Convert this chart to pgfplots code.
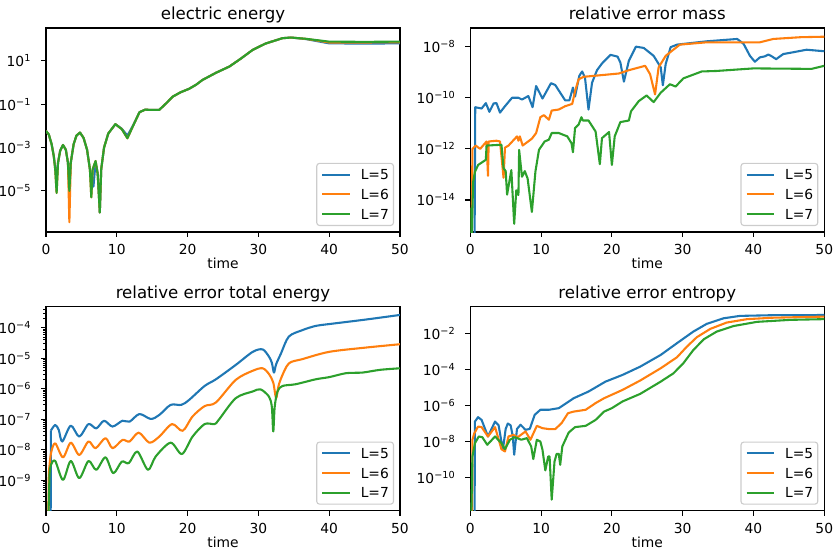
\documentclass[border=0pt]{standalone}
\usepackage{fontspec}
\setmainfont{DejaVu Sans}
\usepackage{pgfplots}
\pgfplotsset{compat=1.18}
\definecolor{c0}{HTML}{1F77B4}
\definecolor{c1}{HTML}{FF7F0E}
\definecolor{c2}{HTML}{2CA02C}
\newcommand\ee[1]{10\textsuperscript{#1}}

% shared look of the four panels
\pgfplotsset{
  scale only axis, width=254.88bp, height=146.88bp,
  xmin=0, xmax=50, xtick={0,10,20,30,40,50},
  no markers,
  tick align=outside, tick pos=left,
  major tick length=3.5bp, minor tick length=2bp,
  major tick style={black, line width=0.8bp},
  minor tick style={black, line width=0.6bp},
  axis line style={line width=0.8bp},
  xticklabel style={inner sep=0pt, anchor=base, yshift=-13bp},
  yticklabel style={inner sep=0pt, anchor=east, xshift=-7bp},
  every axis title shift=0pt,
  title style={font=\fontsize{12}{14}\selectfont, inner sep=0pt,
    at={(axis description cs:0.5,1)}, anchor=base, yshift=6.1bp},
  xlabel style={inner sep=0pt, at={(axis description cs:0.5,0)}, anchor=base, yshift=-26.6bp},
  every axis plot/.append style={line width=1.5bp, line join=round},
  legend cell align=left,
  legend image code/.code={\draw[#1] (0bp,0bp) -- (20bp,0bp);},
  legend style={at={(1,0)}, anchor=south east, xshift=-4.3bp, yshift=4.3bp,
    draw=black!20, line width=0.8bp, rounded corners=2bp,
    fill=white, fill opacity=0.8, text opacity=1,
    inner xsep=3.3bp, inner ysep=4.5bp, row sep=6.9bp,
    nodes={inner sep=0pt, text height=7.3bp, text depth=0bp},
    /tikz/every odd column/.append style={column sep=6.9bp}},
}

\begin{document}
\begin{tikzpicture}

% electric energy
\begin{axis}[at={(33.12bp,228.96bp)}, anchor=south west, ymode=log,
  /pgf/number format/assume math mode=true,
  title={electric energy}, xlabel={time},
  ymin=1.26e-7, ymax=331,
  ytick={1e-5,1e-3,1e-1,1e1},
  yticklabels={\ee{−5},\ee{−3},\ee{−1},\ee{1}}]
\addplot[c0] coordinates {(0,5.89e-3) (0.4,3.98e-3) (0.8,1.41e-3) (1.1,3.98e-4) (1.3,1.26e-4) (1.5,3.16e-5) (1.7,2.0e-4) (2.0,7.08e-4) (2.4,1.32e-3) (2.8,7.94e-4) (3.1,2.0e-4) (3.3,1.0e-5) (3.5,2.0e-4) (3.9,1.41e-3) (4.3,3.55e-3) (4.8,4.90e-3) (5.3,2.82e-3) (5.8,7.94e-4) (6.2,1.0e-4) (6.4,5.01e-5) (6.7,1.58e-5) (7.0,2.0e-4) (7.3,6.31e-5) (7.6,1.0e-6) (7.8,1.0e-4) (8.2,1.0e-3) (8.8,4.47e-3) (9.8,1.20e-2) (10.7,7.41e-3) (11.5,3.55e-3) (12.3,1.05e-2) (13.2,4.27e-2) (14.0,5.62e-2) (14.6,5.50e-2) (16.0,5.50e-2) (17.0,1.12e-1) (17.9,2.24e-1) (19.0,3.55e-1) (20.2,5.13e-1) (21.2,7.94e-1) (22.1,1.32) (24.0,2.82) (25.9,5.50) (27.5,12.6) (29.2,32.4) (31.0,63.1) (33.4,112) (34.6,120) (36.7,102) (38.5,79.4) (40.0,64.6) (45.0,63.1) (50.0,64.6)};
\addlegendentry{L=5}
\addplot[c1] coordinates {(0,5.89e-3) (0.4,3.98e-3) (0.8,1.41e-3) (1.1,3.98e-4) (1.3,1.0e-4) (1.5,7.94e-6) (1.7,2.0e-4) (2.0,7.08e-4) (2.4,1.32e-3) (2.8,7.94e-4) (3.1,2.0e-4) (3.3,3.55e-7) (3.5,2.0e-4) (3.9,1.41e-3) (4.3,3.55e-3) (4.8,4.90e-3) (5.3,2.82e-3) (5.8,7.94e-4) (6.2,1.0e-4) (6.4,5.01e-6) (6.6,1.0e-4) (7.0,2.40e-4) (7.3,6.31e-5) (7.6,1.0e-6) (7.8,1.0e-4) (8.2,1.0e-3) (8.8,4.47e-3) (9.8,1.20e-2) (10.7,7.08e-3) (11.5,2.69e-3) (12.3,1.0e-2) (13.2,4.27e-2) (14.0,5.62e-2) (14.6,5.50e-2) (16.0,5.50e-2) (17.0,1.12e-1) (17.9,2.24e-1) (19.0,3.55e-1) (20.2,5.13e-1) (21.2,7.94e-1) (22.1,1.32) (24.0,2.82) (25.9,5.50) (27.5,12.6) (29.2,32.4) (31.0,63.1) (33.4,112) (34.6,120) (36.7,104) (38.5,85.1) (40.0,70.8) (45.0,70.8) (50.0,72.4)};
\addlegendentry{L=6}
\addplot[c2] coordinates {(0,5.89e-3) (0.4,3.98e-3) (0.8,1.41e-3) (1.1,3.98e-4) (1.3,1.0e-4) (1.5,7.94e-6) (1.7,2.0e-4) (2.0,7.08e-4) (2.4,1.32e-3) (2.8,7.94e-4) (3.1,2.0e-4) (3.3,1.0e-5) (3.5,2.0e-4) (3.9,1.41e-3) (4.3,3.55e-3) (4.8,4.90e-3) (5.3,2.82e-3) (5.8,7.94e-4) (6.2,1.0e-4) (6.4,5.01e-6) (6.6,1.0e-4) (7.0,2.40e-4) (7.3,6.31e-5) (7.6,1.0e-6) (7.8,1.0e-4) (8.2,1.0e-3) (8.8,4.47e-3) (9.8,1.20e-2) (10.7,7.08e-3) (11.5,2.69e-3) (12.3,1.0e-2) (13.2,4.27e-2) (14.0,5.62e-2) (14.6,5.50e-2) (16.0,5.50e-2) (17.0,1.12e-1) (17.9,2.24e-1) (19.0,3.55e-1) (20.2,5.13e-1) (21.2,7.94e-1) (22.1,1.32) (24.0,2.82) (25.9,5.50) (27.5,12.6) (29.2,32.4) (31.0,63.1) (33.4,112) (34.6,120) (36.7,105) (38.5,89.1) (40.0,77.6) (45.0,75.9) (50.0,77.6)};
\addlegendentry{L=7}
\end{axis}

% relative error mass
\begin{axis}[at={(338.6bp,228.96bp)}, anchor=south west, ymode=log,
  /pgf/number format/assume math mode=true,
  title={relative error mass}, xlabel={time},
  ymin=5.6e-16, ymax=5.37e-8,
  ytick={1e-14,1e-12,1e-10,1e-8},
  yticklabels={\ee{−14},\ee{−12},\ee{−10},\ee{−8}}]
\addplot[c0] coordinates {(0,1e-16) (0.6,1e-16) (0.7,4.27e-11) (1.6,3.80e-11) (2.2,6.17e-11) (2.7,2.82e-11) (3.3,6.03e-11) (3.7,6.17e-11) (4.2,2.63e-11) (4.9,4.68e-11) (5.9,1.0e-10) (6.8,1.0e-10) (7.3,8.51e-11) (8.2,1.17e-10) (8.8,4.27e-11) (9.3,2.88e-10) (10.2,9.33e-11) (11.4,3.72e-10) (12.0,3.16e-10) (13.4,7.94e-11) (14.0,7.94e-11) (14.5,2.51e-10) (14.8,1.12e-10) (15.4,7.24e-10) (15.8,1.07e-9) (16.2,6.17e-10) (16.7,3.47e-11) (17.2,3.89e-10) (17.9,1.20e-9) (18.6,2.19e-9) (19.8,4.79e-9) (20.8,4.07e-9) (21.2,2.40e-9) (21.7,4.27e-10) (22.4,2.82e-9) (23.4,1.0e-8) (24.5,8.91e-9) (25.9,4.37e-9) (26.9,1.55e-9) (27.2,3.09e-10) (27.6,2.09e-9) (28.3,9.55e-9) (29.2,1.20e-8) (33.4,1.62e-8) (37.7,2.0e-8) (38.6,1.29e-8) (39.5,4.37e-9) (40.2,2.57e-9) (40.9,3.80e-9) (41.6,4.17e-9) (42.1,4.90e-9) (42.6,4.17e-9) (43.2,3.24e-9) (44.2,5.13e-9) (45.6,6.03e-9) (47.5,7.59e-9) (50,6.61e-9)};
\addlegendentry{L=5}
\addplot[c1] coordinates {(0,1e-16) (0.2,1e-16) (0.3,1.0e-12) (0.76,1.35e-12) (1.4,1.0e-12) (1.8,1.35e-12) (2.3,1.95e-12) (2.5,8.91e-14) (2.6,1.95e-12) (3.7,2.09e-12) (4.2,1.95e-12) (4.7,7.41e-14) (4.9,1.12e-12) (5.4,1.35e-12) (6.6,3.09e-12) (6.8,2.09e-12) (7.0,3.09e-12) (7.4,1.35e-12) (8.7,2.51e-12) (9.3,4.17e-12) (9.9,1.74e-11) (10.4,2.09e-11) (11.1,1.38e-11) (11.5,3.16e-11) (12.5,3.47e-11) (13.4,4.68e-11) (14.4,5.75e-11) (14.8,1.82e-10) (15.3,5.25e-10) (16.0,6.61e-10) (21.0,8.91e-10) (22.4,1.20e-9) (24.7,1.78e-9) (25.4,8.32e-10) (26.1,1.35e-10) (26.6,1.55e-9) (27.6,4.37e-9) (28.5,6.92e-9) (29.6,1.20e-8) (33.4,1.48e-8) (40.9,1.48e-8) (42.8,2.0e-8) (46.6,2.34e-8) (50,2.45e-8)};
\addlegendentry{L=6}
\addplot[c2] coordinates {(0,5.01e-15) (0.2,3.16e-16) (0.4,5.01e-14) (0.66,1.26e-13) (1.1,2.34e-13) (1.8,3.16e-13) (2.2,3.72e-13) (2.3,1.35e-12) (4.4,1.45e-12) (4.7,1.74e-13) (5.0,1.35e-13) (5.2,1.62e-14) (5.8,1.48e-13) (6.2,1.17e-15) (6.5,2.40e-14) (6.8,1.58e-14) (6.9,9.12e-13) (7.3,8.13e-14) (7.7,1.35e-13) (8.1,6.92e-14) (8.7,3.39e-15) (9.2,1.29e-13) (9.7,9.12e-13) (10.5,1.95e-12) (11.1,2.29e-12) (11.5,4.17e-12) (12.5,4.17e-12) (13.7,3.09e-12) (14.3,1.66e-12) (14.5,7.41e-13) (14.8,6.61e-12) (15.3,8.91e-12) (15.7,1.74e-11) (15.9,1.29e-11) (16.7,1.29e-11) (17.7,4.79e-12) (18.3,2.51e-13) (18.6,2.63e-12) (19.6,4.57e-12) (20.0,2.34e-13) (20.4,3.09e-12) (21.2,1.12e-11) (22.4,1.29e-11) (22.7,2.95e-11) (23.8,7.41e-11) (24.9,1.23e-10) (25.9,6.76e-11) (26.9,1.58e-10) (28.2,3.39e-10) (29.0,2.75e-10) (30.1,5.75e-10) (32.7,1.07e-9) (34.8,1.12e-9) (40,1.41e-9) (48.2,1.35e-9) (50,1.78e-9)};
\addlegendentry{L=7}
\end{axis}

% relative error total energy
\begin{axis}[at={(33.12bp,28.3bp)}, anchor=south west, ymode=log,
  /pgf/number format/assume math mode=true,
  title={relative error total energy}, xlabel={time},
  ymin=1e-10, ymax=4.9e-4,
  ytick={1e-9,1e-8,1e-7,1e-6,1e-5,1e-4},
  yticklabels={\ee{−9},\ee{−8},\ee{−7},\ee{−6},\ee{−5},\ee{−4}},
  minor ytick={2e-10,3e-10,4e-10,5e-10,6e-10,7e-10,8e-10,9e-10,
    2e-9,3e-9,4e-9,5e-9,6e-9,7e-9,8e-9,9e-9,
    2e-8,3e-8,4e-8,5e-8,6e-8,7e-8,8e-8,9e-8,
    2e-7,3e-7,4e-7,5e-7,6e-7,7e-7,8e-7,9e-7,
    2e-6,3e-6,4e-6,5e-6,6e-6,7e-6,8e-6,9e-6,
    2e-5,3e-5,4e-5,5e-5,6e-5,7e-5,8e-5,9e-5,
    2e-4,3e-4,4e-4}]
% the steep rise from below the axis is drawn apart, so that smoothing keeps clear of it
\addplot[c0, forget plot] coordinates {(0,1e-11) (0.65,1e-11) (0.7,4.27e-8)};
\addplot[c0, smooth] coordinates {(0.7,4.27e-8) (1.3,6.46e-8) (1.8,4.47e-8) (2.3,1.86e-8) (3.5,6.17e-8) (4.7,2.69e-8) (6.0,6.92e-8) (7.1,5.01e-8) (8.2,8.91e-8) (9.4,5.75e-8) (10.8,8.91e-8) (11.8,8.32e-8) (13.2,1.48e-7) (14.8,1.02e-7) (16.0,1.38e-7) (17.6,2.95e-7) (19.1,2.95e-7) (20.2,4.27e-7) (22.4,1.23e-6) (24.0,2.04e-6) (26.8,6.03e-6) (29.2,1.62e-5) (30.6,1.95e-5) (31.5,1.12e-5) (31.9,7.08e-6) (32.2,3.39e-6) (32.5,6.31e-6) (33.2,1.45e-5) (34.3,5.13e-5) (36.2,8.32e-5) (38.1,1.15e-4) (40,1.32e-4) (45.2,1.86e-4) (50,2.63e-4)};
\addlegendentry{L=5}
\addplot[c1, forget plot] coordinates {(0,1e-11) (0.3,1e-11) (0.4,1.70e-9)};
\addplot[c1, smooth] coordinates {(0.4,1.70e-9) (0.7,7.59e-9) (1.3,1.62e-8) (2.4,5.62e-9) (3.5,1.70e-8) (4.7,6.76e-9) (6.0,1.86e-8) (7.0,1.12e-8) (8.4,2.40e-8) (9.4,1.12e-8) (10.8,2.09e-8) (11.8,1.86e-8) (13.1,3.63e-8) (14.6,1.70e-8) (16.0,2.69e-8) (17.8,6.92e-8) (19.3,4.17e-8) (20.7,1.23e-7) (22.4,2.69e-7) (24.0,3.55e-7) (26.8,1.95e-6) (29.2,3.89e-6) (30.6,4.68e-6) (31.5,3.02e-6) (32.1,1.58e-6) (32.5,4.90e-7) (32.8,1.12e-6) (33.2,2.19e-6) (34.3,6.76e-6) (36.2,9.33e-6) (40,1.62e-5) (45.2,2.24e-5) (50,2.88e-5)};
\addlegendentry{L=6}
\addplot[c2, forget plot] coordinates {(0,1e-11) (0.25,1e-11) (0.5,1.6e-9)};
\addplot[c2, smooth] coordinates {(0.5,1.6e-9) (0.7,3.2e-9) (1.3,4.27e-9) (2.4,1.02e-9) (3.5,4.27e-9) (4.7,1.17e-9) (6.0,4.27e-9) (7.1,2.19e-9) (8.4,5.62e-9) (9.5,1.70e-9) (10.7,4.07e-9) (11.7,3.63e-9) (12.9,8.71e-9) (14.4,2.19e-9) (15.5,6.03e-9) (17.6,1.70e-8) (19.2,7.24e-9) (20.7,2.69e-8) (22.4,6.92e-8) (23.8,6.92e-8) (24.4,9.55e-8) (26.8,4.90e-7) (29.2,8.13e-7) (30.3,9.55e-7) (31.5,5.50e-7) (31.9,2.51e-7) (32.1,3.98e-8) (32.3,2.51e-7) (32.7,8.13e-7) (33.4,1.23e-6) (35.3,1.41e-6) (38.1,2.04e-6) (40,2.40e-6) (42.4,3.24e-6) (44.7,3.39e-6) (47.2,4.17e-6) (50,4.68e-6)};
\addlegendentry{L=7}
\end{axis}

% relative error entropy
\begin{axis}[at={(338.6bp,28.3bp)}, anchor=south west, ymode=log,
  /pgf/number format/assume math mode=true,
  title={relative error entropy}, xlabel={time},
  ymin=1.48e-12, ymax=0.295,
  ytick={1e-10,1e-8,1e-6,1e-4,1e-2},
  yticklabels={\ee{−10},\ee{−8},\ee{−6},\ee{−4},\ee{−2}}]
\addplot[c0] coordinates {(0,1e-13) (0.6,1e-13) (0.66,1.29e-7) (1.1,2.24e-7) (1.6,1.58e-7) (2.5,1.91e-8) (3.5,1.29e-7) (4.0,7.94e-8) (4.6,3.47e-9) (5.0,5.01e-8) (5.3,1.0e-7) (5.7,7.94e-8) (6.0,2.0e-8) (6.2,1.86e-9) (6.6,5.01e-8) (7.1,8.51e-8) (7.8,4.47e-8) (8.4,5.01e-8) (9.1,3.02e-7) (9.9,5.75e-7) (11.1,5.75e-7) (12.5,7.08e-7) (13.2,1.07e-6) (14.6,2.51e-6) (16.7,5.89e-6) (19.1,2.09e-5) (21.5,4.90e-5) (24.0,1.41e-4) (26.9,6.31e-4) (29.2,2.82e-3) (31.5,1.23e-2) (33.4,3.31e-2) (35.8,6.76e-2) (38.1,9.12e-2) (42.8,1.0e-1) (50,1.02e-1)};
\addlegendentry{L=5}
\addplot[c1] coordinates {(0,1e-13) (0.25,1e-13) (0.3,1.26e-8) (0.57,2.88e-8) (1.1,6.76e-8) (1.6,6.31e-8) (2.5,1.91e-8) (3.5,6.31e-8) (4.4,3.80e-9) (4.9,2.82e-9) (5.4,1.91e-8) (6.1,2.34e-8) (6.7,1.74e-8) (7.8,3.63e-8) (8.5,1.26e-8) (9.4,7.41e-8) (10.2,5.50e-8) (11.1,4.90e-8) (12.0,4.90e-8) (12.9,1.05e-7) (13.8,3.72e-7) (14.6,4.57e-7) (16.3,5.75e-7) (17.7,1.35e-6) (18.9,2.51e-6) (21.5,7.24e-6) (24.0,2.40e-5) (26.9,1.15e-4) (29.2,4.68e-4) (30.6,1.82e-3) (32.0,6.03e-3) (33.9,1.74e-2) (36.2,3.89e-2) (39.1,6.03e-2) (42.8,7.24e-2) (50,8.32e-2)};
\addlegendentry{L=6}
\addplot[c2] coordinates {(0,1e-13) (0.1,1e-13) (0.3,1.48e-9) (0.66,8.13e-9) (1.2,1.91e-8) (1.7,1.74e-8) (2.4,6.61e-9) (3.5,1.91e-8) (4.4,8.13e-9) (4.9,3.80e-9) (5.6,1.26e-8) (6.3,1.74e-8) (7.2,1.26e-8) (8.0,1.55e-8) (8.6,5.37e-9) (8.9,1.07e-9) (9.4,1.26e-8) (9.9,1.0e-8) (10.2,3.47e-9) (10.6,2.51e-10) (11.0,1.48e-9) (11.2,1.48e-9) (11.5,6.03e-12) (11.9,7.94e-10) (12.2,2.09e-9) (12.5,2.09e-9) (12.7,5.13e-10) (13.0,5.37e-9) (13.9,3.16e-8) (14.8,6.31e-8) (16.3,7.41e-8) (17.7,1.58e-7) (18.9,4.57e-7) (20.0,7.08e-7) (21.5,1.66e-6) (24.0,4.37e-6) (26.9,2.09e-5) (28.7,6.03e-5) (30.1,2.19e-4) (31.5,1.17e-3) (33.0,4.68e-3) (34.8,1.23e-2) (37.2,2.51e-2) (40.5,4.27e-2) (45.2,5.50e-2) (50,6.03e-2)};
\addlegendentry{L=7}
\end{axis}

\pgfresetboundingbox
\path[use as bounding box] (0,0) rectangle (599.76bp,396bp);
\end{tikzpicture}
\end{document}
